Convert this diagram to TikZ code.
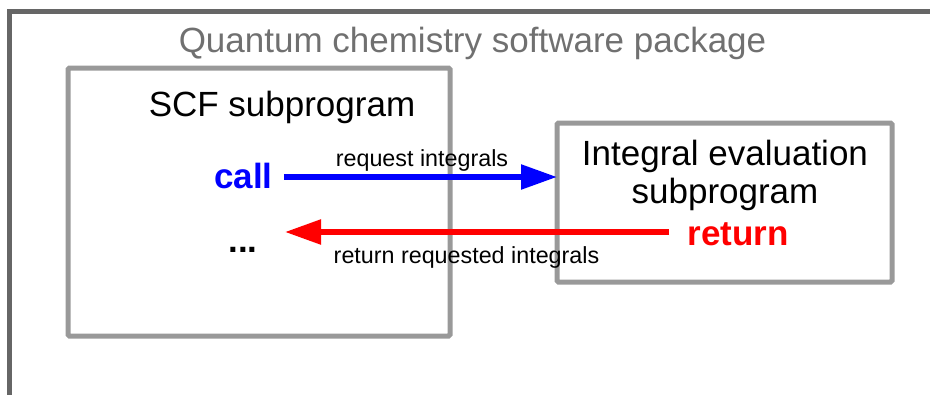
\documentclass[tikz,border=0pt]{standalone}
\usepackage{fontspec}
\setmainfont{Liberation Sans}
\usetikzlibrary{arrows.meta}
\definecolor{framegray}{HTML}{666666}
\definecolor{boxgray}{HTML}{999999}
\definecolor{titlegray}{HTML}{707070}
\definecolor{callblue}{HTML}{0000FF}
\definecolor{retred}{HTML}{FF0000}

\begin{document}
\begin{tikzpicture}[x=1pt,y=-1pt,
    big/.style={inner sep=0pt,anchor=base,font=\fontsize{35}{40}\selectfont},
    small/.style={inner sep=0pt,anchor=base,font=\fontsize{23.3}{28}\selectfont},
    box/.style={draw=boxgray,line width=5pt,rounded corners=1.5pt,inner sep=0pt,outer sep=0pt},
    flow/.style={line width=5.5pt,-{Triangle[length=36pt,width=24pt]}}]
    \useasboundingbox(0,0)rectangle(930,394);
    \clip(0,0)rectangle(930,394);
    \draw[framegray,line width=5pt](9.5,420)--(9.5,11)--(960,11);
    \node[big,titlegray](title)at(472.5,52){Quantum chemistry software package};
    \node[box,minimum width=382pt,minimum height=268pt](scf)at(259,202){};
    \node[box,minimum width=335pt,minimum height=159pt](integ)at(724.5,202.5){};
    \node[big](scfname)at(282,116){SCF subprogram};
    \node[big](integname)at(725,165){Integral evaluation};
    \node[big](integname2)at(725,203){subprogram};
    \node[big,font=\fontsize{35}{40}\selectfont\bfseries,callblue](call)at(243.5,188){call};
    \node[big,font=\fontsize{35}{40}\selectfont\bfseries](dots)at(243,252){...};
    \node[big,font=\fontsize{35}{40}\selectfont\bfseries,retred](ret)at(738,245){return};
    \coordinate(reqline)at(0,177);
    \coordinate(retend)at(285,232);
    \draw[flow,callblue,shorten <=11pt](call.east|-reqline)--(integ.west|-reqline);
    \draw[flow,retred,shorten <=18pt](ret.west|-retend)--(retend);
    \node[small](reqlabel)at(422,166){request integrals};
    \node[small](retlabel)at(466.5,263){return requested integrals};
\end{tikzpicture}
\end{document}
